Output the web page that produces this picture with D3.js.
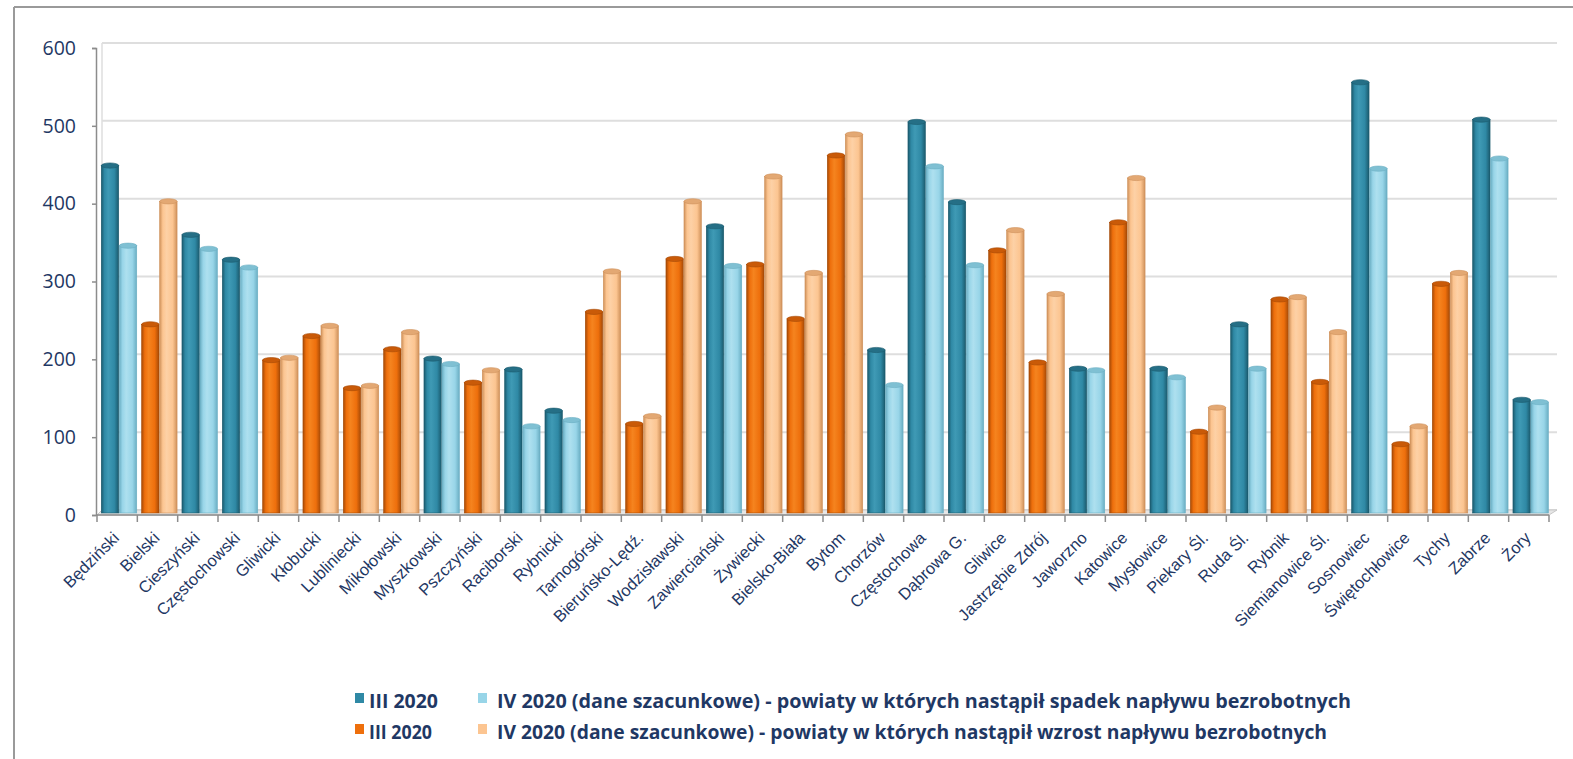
<!DOCTYPE html>
<meta charset="utf-8">
<title>Napływ bezrobotnych III-IV 2020</title>
<style>
body {
  margin: 0;
  background: #fff;
}
.ylab {
  font-family: "Open Sans", sans-serif;
  font-size: 19.5px;
  fill: #1f3864;
}
.xlab {
  font-family: "Liberation Sans", Arial, sans-serif;
  font-size: 16.5px;
  fill: #1f3864;
}
.leg {
  font-family: "Open Sans", sans-serif;
  font-weight: 700;
  font-size: 19px;
  fill: #1f3864;
}
</style>
<svg></svg>
<script src="https://cdnjs.cloudflare.com/ajax/libs/d3/7.8.5/d3.min.js"></script>
<script>
// powiaty / miasta na prawach powiatu
var categories = ["Będziński", "Bielski", "Cieszyński", "Częstochowski", "Gliwicki", "Kłobucki",
  "Lubliniecki", "Mikołowski", "Myszkowski", "Pszczyński", "Raciborski", "Rybnicki", "Tarnogórski",
  "Bieruńsko-Lędź.", "Wodzisławski", "Zawierciański", "Żywiecki", "Bielsko-Biała", "Bytom", "Chorzów",
  "Częstochowa", "Dąbrowa G.", "Gliwice", "Jastrzębie Zdrój", "Jaworzno", "Katowice", "Mysłowice",
  "Piekary Śl.", "Ruda Śl.", "Rybnik", "Siemianowice Śl.", "Sosnowiec", "Świętochłowice", "Tychy",
  "Zabrze", "Żory"];
// s = spadek, w = wzrost
var trend = ["s", "w", "s", "s", "w", "w", "w", "w", "s", "w", "s", "s", "w", "w", "w", "s", "w", "w",
  "w", "s", "s", "s", "w", "w", "s", "w", "s", "w", "s", "w", "w", "s", "w", "w", "s", "s"];
var iii2020 = [449, 245, 360, 328, 199, 230, 163, 213, 201, 170, 187, 134, 261, 117, 329, 371, 322, 252,
  462, 212, 505, 402, 340, 196, 188, 376, 188, 107, 245, 277, 171, 556, 91, 297, 508, 148];
var iv2020 = [346, 403, 342, 318, 202, 243, 166, 235, 194, 186, 114, 122, 313, 127, 403, 320, 435, 311,
  489, 167, 448, 321, 366, 284, 186, 433, 177, 138, 188, 280, 235, 445, 114, 311, 458, 145];
var yTicks = [0, 100, 200, 300, 400, 500, 600];
var legendRows = [
  {a: "III 2020", b: "IV 2020 (dane szacunkowe) - powiaty w których nastąpił spadek napływu bezrobotnych", t: "s"},
  {a: "III 2020", b: "IV 2020 (dane szacunkowe) - powiaty w których nastąpił wzrost napływu bezrobotnych", t: "w"}
];

var width = 1573, height = 759;
var svg = d3.select("svg").attr("width", width).attr("height", height);

// kolory walców: [krawędź, środek, jasny refleks, wieczko]
var colors = {
  s0: ["#1b5a6d", "#2f89a5", "#3f9ab5", "#256f86"],
  s1: ["#6aaec3", "#98d5e8", "#aee0ef", "#7fc0d3"],
  w0: ["#a64a06", "#ee6f0c", "#f5841f", "#c95a08"],
  w1: ["#cf915a", "#fcc591", "#fdd1a6", "#e3a873"]
};
var defs = svg.append("defs");
Object.keys(colors).forEach(function(k) {
  var c = colors[k];
  var g = defs.append("linearGradient").attr("id", "g" + k)
      .attr("x1", "0%").attr("x2", "100%").attr("y1", "0%").attr("y2", "0%");
  g.append("stop").attr("offset", "0%").attr("stop-color", c[0]);
  g.append("stop").attr("offset", "18%").attr("stop-color", c[1]);
  g.append("stop").attr("offset", "40%").attr("stop-color", c[2]);
  g.append("stop").attr("offset", "75%").attr("stop-color", c[1]);
  g.append("stop").attr("offset", "100%").attr("stop-color", c[0]);
});

// ramka
svg.append("line").attr("x1", 14).attr("x2", width).attr("y1", 7).attr("y2", 7)
    .attr("stroke", "#9a9a9a").attr("stroke-width", 2);
svg.append("line").attr("x1", 14).attr("x2", 14).attr("y1", 7).attr("y2", height)
    .attr("stroke", "#9a9a9a").attr("stroke-width", 2);

var x = d3.scaleBand().domain(categories).range([97, 1549]).padding(0);
var y = d3.scaleLinear().domain([0, 600]).range([515, 48]);
var bw = x.bandwidth();
var xs = d3.scaleBand().domain([0, 1]).range([4.3, bw]).padding(0);
var depth = 5;

// tylna ściana z siatką
svg.append("g").selectAll("line").data(yTicks).join("line")
    .attr("x1", 97 + depth).attr("x2", 1549 + 8)
    .attr("y1", function(d) { return y(d) - depth; })
    .attr("y2", function(d) { return y(d) - depth; })
    .attr("stroke", "#dedede").attr("stroke-width", 2);
svg.append("line").attr("x1", 97 + depth).attr("x2", 97 + depth)
    .attr("y1", y(600) - depth).attr("y2", y(0) - depth)
    .attr("stroke", "#dedede").attr("stroke-width", 1.5);
// podłoga
svg.append("path")
    .attr("d", "M97," + y(0) + "L" + (97 + depth) + "," + (y(0) - depth) + "L1557," + (y(0) - depth) + "L1549," + y(0) + "Z")
    .attr("fill", "#e6e6e6").attr("stroke", "#c8c8c8").attr("stroke-width", 1);

// słupki
var rows = categories.map(function(c, i) {
  return {c: c, t: trend[i], v: [iii2020[i], iv2020[i]]};
});
var grp = svg.append("g").selectAll("g").data(rows).join("g")
    .attr("transform", function(d) { return "translate(" + x(d.c) + ",0)"; });
grp.selectAll("g").data(function(d) {
  return d.v.map(function(v, j) { return {v: v, j: j, k: d.t + j}; });
}).join("g").each(function(d) {
  var s = d3.select(this), x0 = xs(d.j), w = xs.bandwidth() - 0.6, top = y(d.v);
  s.append("rect")
      .attr("x", x0).attr("y", top).attr("width", w).attr("height", y(0) - 2 - top)
      .attr("fill", "url(#g" + d.k + ")")
      .attr("stroke", colors[d.k][0]).attr("stroke-width", 0.6);
  s.append("ellipse")
      .attr("cx", x0 + w / 2).attr("cy", top).attr("rx", w / 2).attr("ry", 2.6)
      .attr("fill", colors[d.k][3]).attr("stroke", colors[d.k][0]).attr("stroke-width", 0.6);
});

// oś Y
var yAxis = svg.append("g").attr("transform", "translate(96,0)")
    .call(d3.axisLeft(y).tickValues(yTicks).tickSize(4).tickPadding(16));
yAxis.select(".domain").attr("stroke", "#8c8c8c").attr("stroke-width", 1.5);
yAxis.selectAll(".tick line").attr("stroke", "#8c8c8c").attr("stroke-width", 1.5);
yAxis.selectAll("text").attr("class", "ylab").attr("fill", null).attr("font-size", null).attr("font-family", null);

// oś X
svg.append("line").attr("x1", 96).attr("x2", 1549).attr("y1", y(0)).attr("y2", y(0))
    .attr("stroke", "#8c8c8c").attr("stroke-width", 1.5);
svg.append("g").selectAll("line").data(d3.range(categories.length + 1)).join("line")
    .attr("x1", function(i) { return 97 + i * x.step(); })
    .attr("x2", function(i) { return 97 + i * x.step(); })
    .attr("y1", y(0)).attr("y2", y(0) + 7)
    .attr("stroke", "#8c8c8c").attr("stroke-width", 1.5);
svg.append("g").selectAll("text").data(categories).join("text")
    .attr("class", "xlab")
    .attr("text-anchor", "end")
    .attr("transform", function(d) {
      return "translate(" + (x(d) + bw / 2 + 3) + "," + (y(0) + 24) + ") rotate(-45)";
    })
    .text(function(d) { return d; });

// legenda
var leg = svg.append("g").selectAll("g").data(legendRows).join("g")
    .attr("transform", function(d, i) { return "translate(0," + (i * 31) + ")"; });
leg.append("rect").attr("x", 355).attr("y", 693).attr("width", 9).attr("height", 10)
    .attr("fill", function(d) { return colors[d.t + "0"][1]; });
leg.append("rect").attr("x", 478).attr("y", 693).attr("width", 9).attr("height", 10)
    .attr("fill", function(d) { return colors[d.t + "1"][1]; });
leg.append("text").attr("class", "leg").attr("x", 369).attr("y", 708)
    .attr("textLength", function(d, i) { return i ? 63 : 69; })
    .attr("lengthAdjust", "spacingAndGlyphs")
    .text(function(d) { return d.a; });
leg.append("text").attr("class", "leg").attr("x", 497).attr("y", 708)
    .attr("textLength", function(d, i) { return i ? 830 : 854; })
    .attr("lengthAdjust", "spacingAndGlyphs")
    .text(function(d) { return d.b; });
</script>
